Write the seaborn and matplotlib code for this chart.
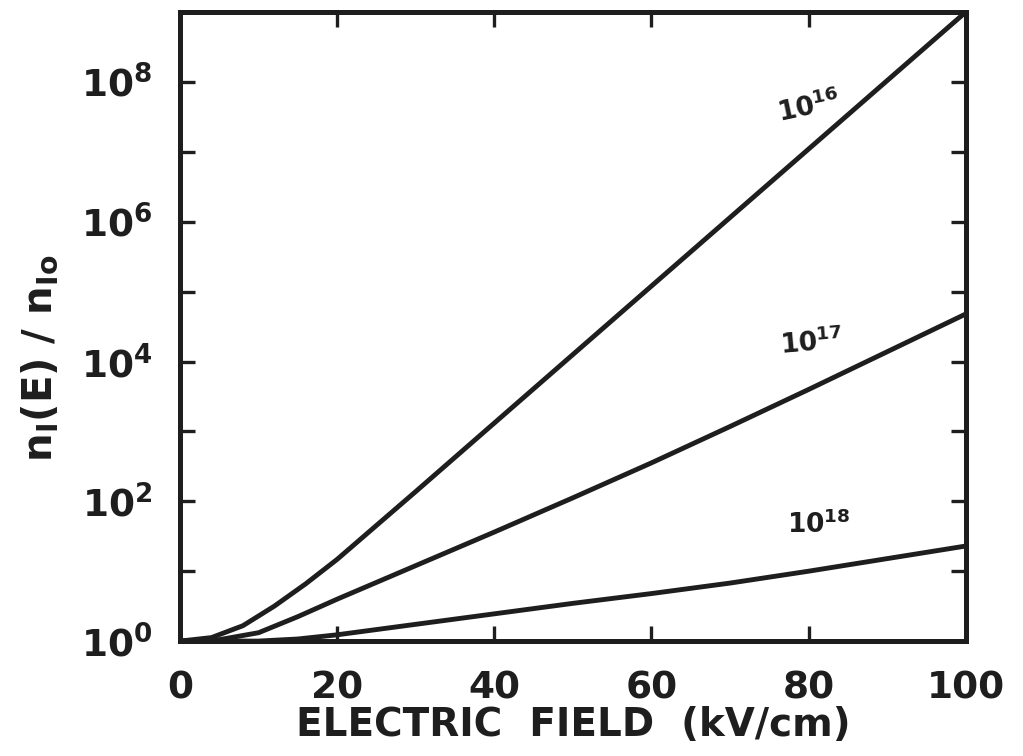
import numpy as np
import pandas as pd
import matplotlib
matplotlib.use("Agg")
import matplotlib.pyplot as plt
import seaborn as sns

# Electric field (kV/cm) and log10 of n_I(E)/n_Io for each doping level (cm^-3)
field_16 = [0, 4, 8, 12, 16, 20, 30, 40, 50, 60, 70, 80, 90, 100]
log_16 = [0, 0.05, 0.22, 0.5, 0.82, 1.17, 2.14, 3.12, 4.10, 5.08, 6.06, 7.04, 8.02, 9.0]

field_17 = [0, 5, 10, 15, 20, 30, 40, 50, 60, 70, 80, 90, 100]
log_17 = [0, 0.02, 0.12, 0.35, 0.6, 1.08, 1.56, 2.05, 2.55, 3.07, 3.6, 4.14, 4.68]

field_18 = [0, 10, 15, 20, 30, 40, 50, 60, 70, 80, 90, 100]
log_18 = [0, 0.0, 0.03, 0.09, 0.24, 0.39, 0.54, 0.68, 0.83, 1.0, 1.18, 1.36]

doping_labels = ["10$^{16}$", "10$^{17}$", "10$^{18}$"]
x_ticks = [0, 20, 40, 60, 80, 100]
y_label_exponents = [0, 2, 4, 6, 8]

frames = []
for lab, f, lg in zip(doping_labels, [field_16, field_17, field_18], [log_16, log_17, log_18]):
    frames.append(pd.DataFrame({"field": f, "ratio": 10.0 ** np.array(lg), "doping": lab}))
df = pd.concat(frames, ignore_index=True)

sns.set_theme(style="ticks")
plt.rcParams["font.family"] = ["DejaVu Sans"]
plt.rcParams["font.weight"] = "bold"
plt.rcParams["mathtext.default"] = "bf"

ink = "#1e1e1e"
fig = plt.figure(figsize=(10.23, 7.56), dpi=100)
ax = fig.add_axes([0.176, 0.152, 0.768, 0.832])

sns.lineplot(data=df, x="field", y="ratio", hue="doping", units="doping",
             estimator=None, palette=[ink, ink, ink], linewidth=3.5,
             legend=False, ax=ax, sort=False)

ax.set_yscale("log")
ax.set_xlim(0, 100)
ax.set_ylim(1, 1e9)

ax.set_xticks(x_ticks)
ax.set_xticklabels([str(v) for v in x_ticks])
ax.set_yticks([10.0 ** k for k in range(0, 10)])
ax.set_yticklabels([("10$^{%d}$" % k) if k in y_label_exponents else "" for k in range(0, 10)])
ax.yaxis.set_minor_locator(matplotlib.ticker.NullLocator())

ax.tick_params(axis="both", which="major", direction="in", length=11, width=2.4,
               color=ink, labelcolor=ink, top=True, right=True)
ax.tick_params(axis="x", pad=21, labelsize=27)
ax.tick_params(axis="y", pad=20, labelsize=27)
for lab in ax.get_xticklabels() + ax.get_yticklabels():
    lab.set_fontweight("bold")

for sp in ax.spines.values():
    sp.set_linewidth(3.6)
    sp.set_color(ink)

ax.set_xlabel("ELECTRIC  FIELD  (kV/cm)", fontsize=28, fontweight="bold", color=ink, labelpad=0)
ax.set_ylabel("n$_{I}$(E) / n$_{Io}$", fontsize=29, fontweight="bold", color=ink)
ax.yaxis.set_label_coords(-0.152, 0.45)

# curve labels
ax.text(80.0, 10 ** 7.64, doping_labels[0], fontsize=19, fontweight="bold", color=ink,
        rotation=12, ha="center", va="center")
ax.text(80.4, 10 ** 4.26, doping_labels[1], fontsize=19, fontweight="bold", color=ink,
        rotation=5, ha="center", va="center")
ax.text(81.3, 10 ** 1.67, doping_labels[2], fontsize=19, fontweight="bold", color=ink,
        rotation=0, ha="center", va="center")

fig.savefig("out.png", dpi=100, facecolor="white")
